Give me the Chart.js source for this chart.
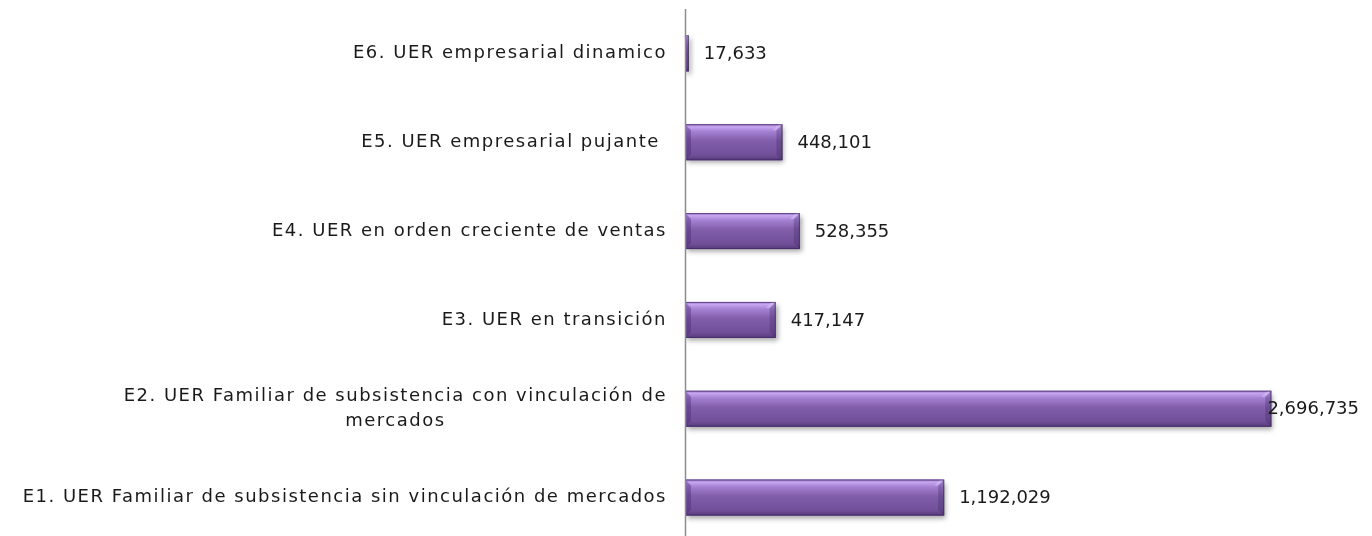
<!DOCTYPE html>
<html>
<head>
<meta charset="utf-8">
<script src="https://cdn.jsdelivr.net/npm/chart.js@4.4.0/dist/chart.umd.min.js"></script>
<style>
  html, body { margin: 0; padding: 0; background: #fff; overflow: hidden; }
  #wrap { width: 1372px; height: 542px; }
</style>
</head>
<body>
<div id="wrap"><canvas id="bar-chart" width="1372" height="542"></canvas></div>
<script>
// categories top to bottom
const categories = [
  "E6. UER empresarial dinamico",
  "E5. UER empresarial pujante ",
  "E4. UER en orden creciente de ventas",
  "E3. UER en transición",
  ["E2. UER Familiar de subsistencia con vinculación de", "mercados"],
  "E1. UER Familiar de subsistencia sin vinculación de mercados"
];
const unidades = [17633, 448101, 528355, 417147, 2696735, 1192029];

const FONT = '18px "DejaVu Sans", "Open Sans", sans-serif';
const fmt = (v) => v.toLocaleString("en-US");

// axis line + category labels + value labels + bevel look
const decor = {
  id: "decor",
  beforeDatasetDraw(chart) {
    const ctx = chart.ctx;
    ctx.save();
    ctx.shadowColor = "rgba(0,0,0,0.35)";
    ctx.shadowBlur = 5;
    ctx.shadowOffsetX = 2;
    ctx.shadowOffsetY = 3;
  },
  afterDatasetDraw(chart) {
    chart.ctx.restore();
  },
  afterDatasetsDraw(chart) {
    const ctx = chart.ctx;
    const area = chart.chartArea;
    const xs = chart.scales.x;
    const ys = chart.scales.y;
    const meta = chart.getDatasetMeta(0);

    // bars: gradient + bevels
    meta.data.forEach((bar) => {
      const p = bar.getProps(["x", "y", "base", "height"], true);
      const l = p.base, r = p.x, t = p.y - p.height / 2, b = p.y + p.height / 2;
      const w = r - l;
      const g = ctx.createLinearGradient(0, t, 0, b);
      g.addColorStop(0, "#9473c0");
      g.addColorStop(0.07, "#c6a6f0");
      g.addColorStop(0.2, "#a581d3");
      g.addColorStop(0.45, "#825eab");
      g.addColorStop(0.85, "#714f99");
      g.addColorStop(1, "#553a78");
      ctx.save();
      ctx.fillStyle = g;
      ctx.fillRect(l, t, w, p.height);
      const bv = Math.min(6, w / 2);
      // left end
      ctx.fillStyle = "rgba(70,40,110,0.4)";
      ctx.beginPath();
      ctx.moveTo(l, t); ctx.lineTo(l + bv, t + bv); ctx.lineTo(l + bv, b - bv); ctx.lineTo(l, b);
      ctx.closePath(); ctx.fill();
      // right end
      ctx.fillStyle = "rgba(60,35,95,0.3)";
      ctx.beginPath();
      ctx.moveTo(r, t); ctx.lineTo(r - bv, t + bv); ctx.lineTo(r - bv, b - bv); ctx.lineTo(r, b);
      ctx.closePath(); ctx.fill();
      ctx.fillStyle = "rgba(215,190,248,0.55)";
      ctx.beginPath();
      ctx.moveTo(r, t); ctx.lineTo(r - bv, t + bv); ctx.lineTo(r - bv - 4, t + bv); ctx.lineTo(r - 4, t);
      ctx.closePath(); ctx.fill();
      ctx.strokeStyle = "rgba(60,35,95,0.6)";
      ctx.lineWidth = 1;
      ctx.strokeRect(l + 0.5, t + 0.5, w - 1, p.height - 1);
      ctx.restore();
    });

    // axis line at zero
    const x0 = Math.round(xs.getPixelForValue(0)) + 0.5;
    ctx.save();
    ctx.strokeStyle = "#8c8c8c";
    ctx.lineWidth = 1.5;
    ctx.beginPath();
    ctx.moveTo(x0, area.top);
    ctx.lineTo(x0, area.bottom);
    ctx.stroke();

    ctx.font = FONT;
    ctx.fillStyle = "#1a1a1a";
    ctx.textBaseline = "middle";

    // category labels, block right aligned, lines centred
    ctx.letterSpacing = "1.5px";
    categories.forEach((lab, i) => {
      const lines = Array.isArray(lab) ? lab : [lab];
      const yc = ys.getPixelForTick(i);
      const maxW = Math.max(...lines.map((s) => ctx.measureText(s).width));
      const cx = 667 - maxW / 2;
      const lh = 25;
      ctx.textAlign = "center";
      lines.forEach((s, k) => {
        ctx.fillText(s, cx, yc + (k - (lines.length - 1) / 2) * lh);
      });
    });

    // value labels
    ctx.letterSpacing = "0px";
    ctx.textAlign = "left";
    meta.data.forEach((bar, i) => {
      const txt = fmt(unidades[i]);
      const tw = ctx.measureText(txt).width;
      let x = bar.x + 15;
      if (x + tw > area.right) x = area.right - tw;
      ctx.fillText(txt, x, bar.y + 1);
    });
    ctx.restore();
  }
};

const config = {
  type: "bar",
  data: {
    labels: categories,
    datasets: [
      {
        label: "UER",
        data: unidades,
        backgroundColor: "#7b57a2",
        borderWidth: 0,
        barPercentage: 0.405,
        categoryPercentage: 1
      }
    ]
  },
  options: {
    indexAxis: "y",
    responsive: false,
    animation: false,
    layout: { padding: { left: 685, right: 13, top: 9, bottom: 0 } },
    scales: {
      x: { display: false, min: 0, max: 3100000 },
      y: { display: false }
    },
    plugins: {
      legend: { display: false },
      tooltip: { enabled: false }
    }
  },
  plugins: [decor]
};

const ctx = document.getElementById("bar-chart").getContext("2d");
window.myBar = new Chart(ctx, config);
</script>
</body>
</html>
